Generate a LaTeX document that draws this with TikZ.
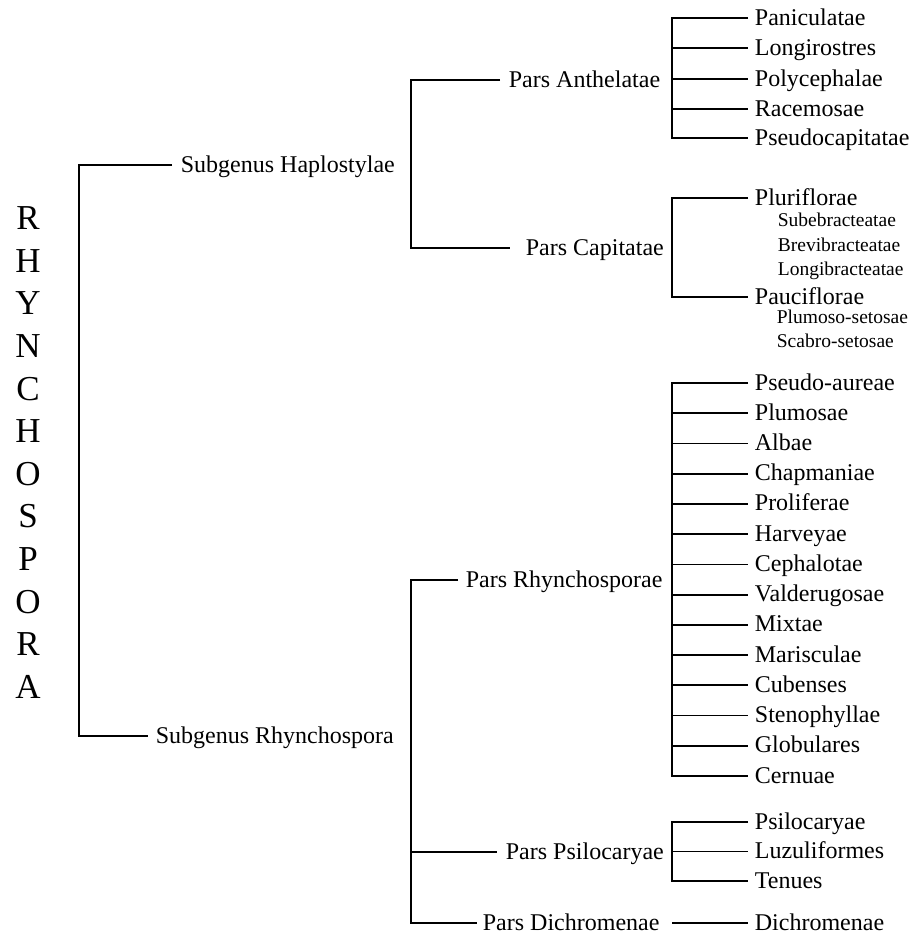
\documentclass[tikz,border=0pt]{standalone}
\usepackage{fontspec}
\setmainfont{Liberation Serif}
\begin{document}
\begin{tikzpicture}[x=1pt,y=-1pt,line width=1.8pt,
  lbl/.style={anchor=west,inner sep=0pt,text height=14pt,text depth=0pt,font=\fontsize{24}{28}\selectfont},
  sublbl/.style={anchor=mid west,inner sep=0pt,font=\fontsize{19.5}{23}\selectfont},
  titlelbl/.style={inner sep=0pt,align=center,font=\fontsize{35}{42.64}\selectfont}]
\useasboundingbox (0,0) rectangle (911,935);
% bar x positions
\coordinate (rootbar) at (79,0);
\coordinate (hbar) at (411,0);
\coordinate (lbar) at (672,0);
% title
\node[titlelbl] (title) at (28,452.5) {R\\H\\Y\\N\\C\\H\\O\\S\\P\\O\\R\\A};
% subgenera
\node[lbl] (hap) at (180,165) {Subgenus Haplostylae};
\node[lbl] (rhy) at (155,736) {Subgenus Rhynchospora};
% partes
\node[lbl] (anth) at (508,80) {Pars Anthelatae};
\node[lbl] (capi) at (525,248) {Pars Capitatae};
\node[lbl] (prhy) at (465,580) {Pars Rhynchosporae};
\node[lbl] (psil) at (505,852) {Pars Psilocaryae};
\node[lbl] (pdic) at (482,923) {Pars Dichromenae};
% leaves: Anthelatae
\foreach \n/\y/\t in {a1/18/Paniculatae,a2/48/Longirostres,a3/79/Polycephalae,a4/109/Racemosae,a5/138/Pseudocapitatae}
  \node[lbl] (\n) at (754,\y) {\t};
% Capitatae
\node[lbl] (c1) at (754,198) {Pluriflorae};
\node[lbl] (c2) at (754,297) {Pauciflorae};
\node[sublbl] (s1) at (777,224) {Subebracteatae};
\node[sublbl] (s2) at (777,249) {Brevibracteatae};
\node[sublbl] (s3) at (777,273) {Longibracteatae};
\node[sublbl] (s4) at (776,321) {Plumoso-setosae};
\node[sublbl] (s5) at (776,345) {Scabro-setosae};
% Rhynchosporae
\foreach \n/\y/\t in {r1/383/Pseudo-aureae,r2/413.2/Plumosae,r3/443.5/Albae,r4/473.7/Chapmaniae,r5/503.9/Proliferae,r6/534.2/Harveyae,r7/564.4/Cephalotae,r8/594.6/Valderugosae,r9/624.8/Mixtae,r10/655.1/Marisculae,r11/685.3/Cubenses,r12/715.5/Stenophyllae,r13/745.8/Globulares,r14/776/Cernuae}
  \node[lbl] (\n) at (754,\y) {\t};
% Psilocaryae
\node[lbl] (p1) at (754,822) {Psilocaryae};
\node[lbl] (p2) at (754,851.5) {Luzuliformes};
\node[lbl] (p3) at (754,881) {Tenues};
% Dichromenae
\node[lbl] (d1) at (754,923) {Dichromenae};
% connectors: root
\draw ([xshift=-8pt]hap.west) -| (rootbar |- rhy.west) -- ([xshift=-7pt]rhy.west);
% Haplostylae
\draw ([xshift=-8pt]anth.west) -| (hbar |- capi.west) -- ([xshift=-15pt]capi.west);
% Rhynchospora
\draw ([xshift=-7pt]prhy.west) -| (hbar |- pdic.west) -- ([xshift=-5pt]pdic.west);
\draw (hbar |- psil.west) -- ([xshift=-8pt]psil.west);
% Anthelatae
\draw ([xshift=-6pt]a1.west) -| (lbar |- a5.west) -- ([xshift=-6pt]a5.west);
\foreach \n in {a2,a3,a4} \draw (lbar |- \n.west) -- ([xshift=-6pt]\n.west);
% Capitatae
\draw ([xshift=-6pt]c1.west) -| (lbar |- c2.west) -- ([xshift=-6pt]c2.west);
% Rhynchosporae
\draw ([xshift=-6pt]r1.west) -| (lbar |- r14.west) -- ([xshift=-6pt]r14.west);
\foreach \n in {r2,r3,r4,r5,r6,r7,r8,r9,r10,r11,r12,r13} \draw (lbar |- \n.west) -- ([xshift=-6pt]\n.west);
% Psilocaryae
\draw ([xshift=-6pt]p1.west) -| (lbar |- p3.west) -- ([xshift=-6pt]p3.west);
\draw (lbar |- p2.west) -- ([xshift=-6pt]p2.west);
% Dichromenae
\draw (lbar |- d1.west) -- ([xshift=-6pt]d1.west);
\end{tikzpicture}
\end{document}
